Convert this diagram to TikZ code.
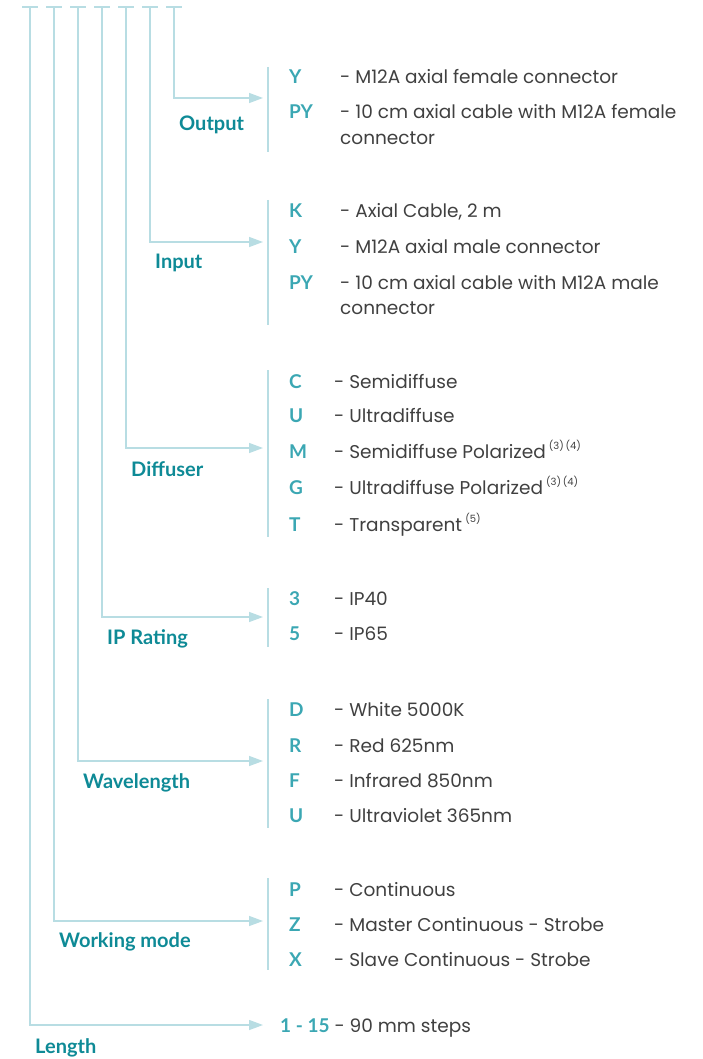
\documentclass[tikz,border=0pt]{standalone}
\usepackage{fontspec}
\setmainfont{Poppins}
\newfontfamily\latofont{Lato}
\usetikzlibrary{arrows.meta}
\definecolor{lineblue}{HTML}{B8DDE3}
\definecolor{labteal}{HTML}{0E8A96}
\definecolor{codeteal}{HTML}{3BA7B3}
\definecolor{desc}{HTML}{404040}
\tikzset{
  x=1pt,y=-1pt,
  conn/.style={draw=lineblue,line width=1.4pt},
  arr/.style={conn,-{Triangle[length=14pt,width=10pt]}},
  sep/.style={draw=lineblue,line width=1.4pt},
  lab/.style={anchor=base west,inner sep=0pt,text=labteal,font=\latofont\fontsize{20}{22}\selectfont\bfseries},
  code/.style={anchor=base west,inner sep=0pt,text=codeteal,font=\latofont\fontsize{19}{22}\selectfont\bfseries},
  dsc/.style={anchor=base west,inner sep=0pt,text=desc,font=\fontsize{18.5}{22}\selectfont},
}
\newcommand{\fn}[1]{\,{\raisebox{0.48em}{\fontsize{10}{11}\selectfont #1}}}
\begin{document}
\begin{tikzpicture}
\useasboundingbox (0,0) rectangle (702,1059);
% top ticks and connectors
\foreach \n/\x/\y in {1/174/98,2/150/242,3/126/448,4/102/617,5/78/761,6/54/921,7/30/1025}{
  \coordinate (top\n) at (\x,7);
  \coordinate (tip\n) at (263,\y);
  \draw[conn] (\x-8,7) -- (\x+8,7);
  \draw[arr] (top\n) |- (tip\n);
}
% separators
\foreach \n/\a/\b in {1/67/152,2/200/325,3/370/537,4/588/647,5/699/828,6/878/970}{
  \coordinate (sa\n) at (268,\a);
  \coordinate (sb\n) at (268,\b);
  \draw[sep] (sa\n) -- (sb\n);
}
% labels
\node[lab] (lOut) at (179,131) {Output};
\node[lab] (lIn) at (155,268) {Input};
\node[lab] (lDif) at (131,476) {Diffuser};
\node[lab] (lIP) at (107,644) {IP Rating};
\node[lab] (lWav) at (83,788) {Wavelength};
\node[lab] (lWork) at (59,947) {Working mode};
\node[lab] (lLen) at (35,1053) {Length};
% Output
\node[code] (o1c) at (289,84) {Y};
\node[dsc] (o1d) at (340,84) {- M12A axial female connector};
\node[code] (o2c) at (289,119) {PY};
\node[dsc] (o2d) at (340,119) {- 10 cm axial cable with M12A female};
\node[dsc] (o2e) at (340,145) {connector};
% Input
\node[code] (i1c) at (289,218) {K};
\node[dsc] (i1d) at (340,218) {- Axial Cable, 2 m};
\node[code] (i2c) at (289,253) {Y};
\node[dsc] (i2d) at (340,253) {- M12A axial male connector};
\node[code] (i3c) at (289,289) {PY};
\node[dsc] (i3d) at (340,289) {- 10 cm axial cable with M12A male};
\node[dsc] (i3e) at (340,314) {connector};
% Diffuser
\node[code] (d1c) at (289,388) {C};
\node[dsc] (d1d) at (334,388) {- Semidiffuse};
\node[code] (d2c) at (289,422) {U};
\node[dsc] (d2d) at (334,422) {- Ultradiffuse};
\node[code] (d3c) at (289,458) {M};
\node[dsc] (d3d) at (334,458) {- Semidiffuse Polarized\fn{(3)\,(4)}};
\node[code] (d4c) at (289,494) {G};
\node[dsc] (d4d) at (334,494) {- Ultradiffuse Polarized\fn{(3)\,(4)}};
\node[code] (d5c) at (289,531) {T};
\node[dsc] (d5d) at (334,531) {- Transparent\fn{(5)}};
% IP
\node[code] (p1c) at (289,605) {3};
\node[dsc] (p1d) at (334,605) {- IP40};
\node[code] (p2c) at (289,640) {5};
\node[dsc] (p2d) at (334,640) {- IP65};
% Wavelength
\node[code] (w1c) at (289,716) {D};
\node[dsc] (w1d) at (334,716) {- White 5000K};
\node[code] (w2c) at (289,752) {R};
\node[dsc] (w2d) at (334,752) {- Red 625nm};
\node[code] (w3c) at (289,787) {F};
\node[dsc] (w3d) at (334,787) {- Infrared 850nm};
\node[code] (w4c) at (289,822) {U};
\node[dsc] (w4d) at (334,822) {- Ultraviolet 365nm};
% Working mode
\node[code] (m1c) at (289,896) {P};
\node[dsc] (m1d) at (334,896) {- Continuous};
\node[code] (m2c) at (289,931) {Z};
\node[dsc] (m2d) at (334,931) {- Master Continuous - Strobe};
\node[code] (m3c) at (289,966) {X};
\node[dsc] (m3d) at (334,966) {- Slave Continuous - Strobe};
% Length
\node[dsc] (len) at (280,1032) {\textcolor{codeteal}{\latofont\bfseries\fontsize{19}{22}\selectfont 1 - 15} - 90 mm steps};
\end{tikzpicture}
\end{document}
